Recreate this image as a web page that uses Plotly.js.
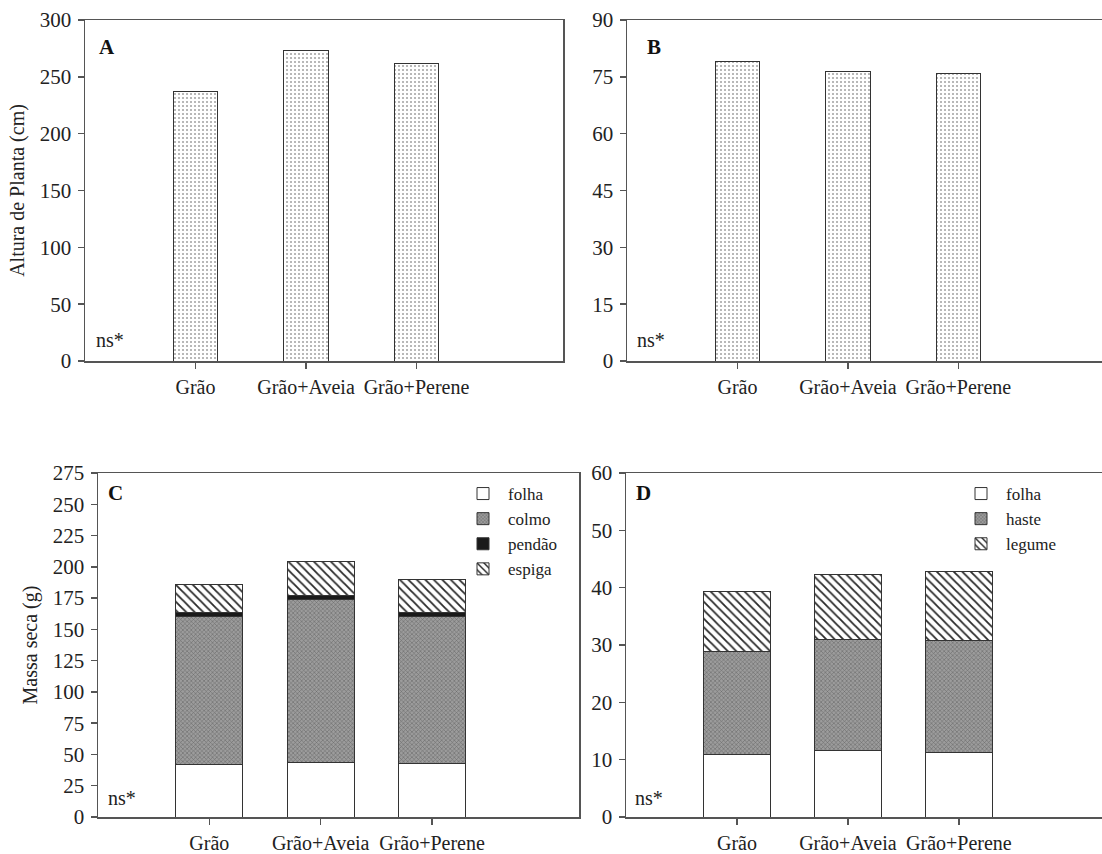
<!DOCTYPE html>
<html>
<head>
<meta charset="utf-8">
<script src="https://cdn.plot.ly/plotly-3.0.1.min.js"></script>
<style>html,body{margin:0;padding:0;background:#fff;}#chart{width:1102px;height:854px;}</style>
</head>
<body>
<div id="chart"></div>
<script>
// ---- data ----
const categories = ['Grão', 'Grão+Aveia', 'Grão+Perene'];
// A: plant height, maize (cm)
const alturaMilho = [237, 273, 262];
// B: plant height, soybean (cm)
const alturaSoja = [79, 76.5, 75.8];
// C: dry mass, maize (g)
const milhoFolha = [42, 43.5, 43];
const milhoColmo = [118, 130.3, 117];
const milhoPendao = [3.5, 3.4, 3.6];
const milhoEspiga = [22.5, 27, 26];
// D: dry mass, soybean (g)
const sojaFolha = [10.9, 11.6, 11.3];
const sojaHaste = [18, 19.3, 19.5];
const sojaLegume = [10.5, 11.4, 12.1];
// tick values
const ticksA = [0, 50, 100, 150, 200, 250, 300];
const ticksB = [0, 15, 30, 45, 60, 75, 90];
const ticksC = [0, 25, 50, 75, 100, 125, 150, 175, 200, 225, 250, 275];
const ticksD = [0, 10, 20, 30, 40, 50, 60];

const W = 1102, H = 854;
const FONT = "'Liberation Serif', 'Times New Roman', serif";
const outline = {color: '#333', width: 1};
const dotPat = {shape: '.', fgcolor: '#a0a0a0', bgcolor: '#ffffff', size: 4, solidity: 0.2};
const whiteM = {color: '#ffffff', line: outline};
const grayM = {color: '#8e8e8e', line: outline, pattern: {shape: 'x', fgcolor: '#6a6a6a', bgcolor: '#9c9c9c', size: 3, solidity: 0.35}};
const blackM = {color: '#1a1a1a', line: outline};
const hatchM = {color: '#ffffff', line: outline, pattern: {shape: '\\', fgcolor: '#2a2a2a', bgcolor: '#ffffff', size: 6, solidity: 0.3}};

const traces = [
  {type: 'bar', x: categories, y: alturaMilho, xaxis: 'x', yaxis: 'y', width: 0.4, showlegend: false,
   marker: {color: '#fff', line: outline, pattern: dotPat}, name: 'Altura'},
  {type: 'bar', x: categories, y: alturaSoja, xaxis: 'x2', yaxis: 'y2', width: 0.4, showlegend: false,
   marker: {color: '#fff', line: outline, pattern: dotPat}, name: 'Altura'},
  {type: 'bar', x: categories, y: milhoFolha, xaxis: 'x3', yaxis: 'y3', width: 0.6, name: 'folha', marker: whiteM, legend: 'legend'},
  {type: 'bar', x: categories, y: milhoColmo, xaxis: 'x3', yaxis: 'y3', width: 0.6, name: 'colmo', marker: grayM, legend: 'legend'},
  {type: 'bar', x: categories, y: milhoPendao, xaxis: 'x3', yaxis: 'y3', width: 0.6, name: 'pendão', marker: blackM, legend: 'legend'},
  {type: 'bar', x: categories, y: milhoEspiga, xaxis: 'x3', yaxis: 'y3', width: 0.6, name: 'espiga', marker: hatchM, legend: 'legend'},
  {type: 'bar', x: categories, y: sojaFolha, xaxis: 'x4', yaxis: 'y4', width: 0.6, name: 'folha', marker: whiteM, legend: 'legend2'},
  {type: 'bar', x: categories, y: sojaHaste, xaxis: 'x4', yaxis: 'y4', width: 0.6, name: 'haste', marker: grayM, legend: 'legend2'},
  {type: 'bar', x: categories, y: sojaLegume, xaxis: 'x4', yaxis: 'y4', width: 0.6, name: 'legume', marker: hatchM, legend: 'legend2'}
];

const tickFont = {family: FONT, size: 21, color: '#222'};
const xTickFont = {family: FONT, size: 20, color: '#222'};
function xax(x0, x1, r1, mirror, anchor) {
  return {domain: [x0 / W, x1 / W], range: [-1, r1], type: 'category', anchor: anchor,
    showline: true, linecolor: '#555', linewidth: 1.5, mirror: mirror,
    ticks: 'outside', ticklen: 6, tickcolor: '#555', tickwidth: 1.5,
    ticklabelstandoff: 1, tickfont: xTickFont, showgrid: false, zeroline: false, fixedrange: true};
}
function yax(top, bottom, rmax, tv, mirror, anchor, title) {
  const a = {domain: [1 - bottom / H, 1 - top / H], range: [0, rmax], anchor: anchor,
    tickvals: tv, ticktext: tv.map(String),
    showline: true, linecolor: '#555', linewidth: 1.5, mirror: mirror,
    ticks: 'outside', ticklen: 6, tickcolor: '#555', tickwidth: 1.5, ticklabelstandoff: 2,
    tickfont: tickFont, showgrid: false, zeroline: false, fixedrange: true};
  if (title) a.title = {text: title, font: {family: FONT, size: 20, color: '#222'}, standoff: 10};
  return a;
}

const ann = [];
function panelText(xref, yref, letter, yL, yN, xsL, xsN) {
  ann.push({xref: xref + ' domain', yref: yref + ' domain', x: 0, y: yL, xanchor: 'left', yanchor: 'middle',
    xshift: xsL, text: '<b>' + letter + '</b>', showarrow: false, font: {family: FONT, size: 21, color: '#111'}});
  ann.push({xref: xref + ' domain', yref: yref + ' domain', x: 0, y: yN, xanchor: 'left', yanchor: 'middle',
    xshift: xsN, text: 'ns*', showarrow: false, font: {family: FONT, size: 20, color: '#222'}});
}
panelText('x', 'y', 'A', 0.921, 0.062, 12, 9);
panelText('x2', 'y2', 'B', 0.921, 0.062, 18, 8);
panelText('x3', 'y3', 'C', 0.942, 0.055, 8, 8);
panelText('x4', 'y4', 'D', 0.942, 0.055, 8, 7);

const legFont = {family: FONT, size: 17, color: '#222'};
const layout = {
  width: W, height: H,
  margin: {l: 0, r: 0, t: 0, b: 0},
  paper_bgcolor: '#fff', plot_bgcolor: 'rgba(0,0,0,0)',
  barmode: 'stack',
  font: {family: FONT, color: '#222'},
  xaxis: xax(85, 563, 3.326, true, 'y'),
  yaxis: yax(20, 361, 300, ticksA, true, 'x', 'Altura de Planta (cm)'),
  xaxis2: xax(627, 1102, 3.30, true, 'y2'),
  yaxis2: yax(20, 361, 90, ticksB, false, 'x2', null),
  xaxis3: xax(98, 579, 3.32, true, 'y3'),
  yaxis3: yax(473, 817, 275, ticksC, true, 'x3', 'Massa seca (g)'),
  xaxis4: xax(626, 1102, 3.29, true, 'y4'),
  yaxis4: yax(473, 817, 60, ticksD, false, 'x4', null),
  legend: {x: 458 / W, y: 1 - 476 / H, xanchor: 'left', yanchor: 'top', traceorder: 'normal',
    bgcolor: 'rgba(0,0,0,0)', font: legFont, itemwidth: 40, tracegroupgap: 0},
  legend2: {x: 956 / W, y: 1 - 476 / H, xanchor: 'left', yanchor: 'top', traceorder: 'normal',
    bgcolor: 'rgba(0,0,0,0)', font: legFont, itemwidth: 40, tracegroupgap: 0},
  annotations: ann,
  showlegend: true
};
Plotly.newPlot('chart', traces, layout, {staticPlot: true, displayModeBar: false});
</script>
</body>
</html>
